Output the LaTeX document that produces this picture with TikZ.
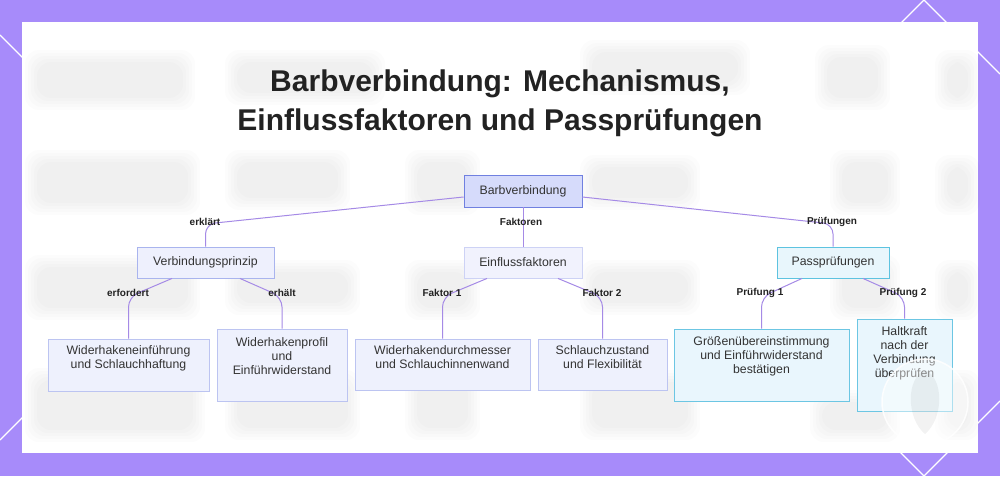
\documentclass[tikz,border=0pt]{standalone}
\usepackage{fontspec}
\setmainfont{Liberation Sans}
\usetikzlibrary{calc}
\definecolor{bgpurple}{HTML}{A78BFA}
\definecolor{edgec}{HTML}{A58AE6}
\definecolor{txt}{HTML}{333333}
\definecolor{ttl}{HTML}{222222}
\definecolor{rootfill}{HTML}{D6DBFB}
\definecolor{rootdraw}{HTML}{7080E0}
\definecolor{vpfill}{HTML}{EEF0FD}
\definecolor{vpdraw}{HTML}{A9B4EE}
\definecolor{effill}{HTML}{F1F2FD}
\definecolor{efdraw}{HTML}{CDD2F5}
\definecolor{ppfill}{HTML}{E8F6FC}
\definecolor{ppdraw}{HTML}{5DC3E0}
\definecolor{lffill}{HTML}{EEF1FD}
\definecolor{lfdraw}{HTML}{BCC4F1}
\definecolor{cyfill}{HTML}{E9F6FD}
\definecolor{cydraw}{HTML}{6CC6E3}
\newcommand\nodefont{\fontsize{12.3}{14}\selectfont}
\newcommand\edgefont{\fontsize{10}{12}\selectfont\bfseries}
\newcommand\myblob[4]{%
  \foreach \e in {10,7,4,1,-2}{%
    \fill[black, opacity=0.01, rounded corners=14] (#1-\e,#2-\e) rectangle (#3+\e,#4+\e);}}
\begin{document}
\begin{tikzpicture}[x=1pt,y=-1pt,
  box/.style={draw, line width=0.9pt, inner sep=0pt, font=\nodefont, text=txt, align=center},
  rootbox/.style={box, fill=rootfill, draw=rootdraw},
  vpbox/.style={box, fill=vpfill, draw=vpdraw},
  efbox/.style={box, fill=effill, draw=efdraw},
  ppbox/.style={box, fill=ppfill, draw=ppdraw},
  lfbox/.style={box, fill=lffill, draw=lfdraw},
  cybox/.style={box, fill=cyfill, draw=cydraw},
  conn/.style={draw=edgec, line width=1pt, rounded corners=10},
  elabel/.style={font=\edgefont, text=ttl, inner sep=1pt},
  titlef/.style={font=\fontsize{30}{38}\selectfont\bfseries, text=ttl, inner sep=0pt, anchor=base},
  deco/.style={draw=white, line width=1.2pt}
]
\useasboundingbox (0,0) rectangle (1000,476);
\fill[bgpurple] (0,0) rectangle (1000,476);
% decorative lines in the margin
\begin{scope}
\clip (0,0) rectangle (1000,476);
\draw[deco] (0,35) -- (40,75);
\draw[deco] (0,440) -- (40,400);
\draw[deco] (880,44) -- (924,0) -- (970,46);
\draw[deco] (960,34) -- (1000,74);
\draw[deco] (960,441) -- (1000,401);
\draw[deco] (878,430) -- (924,476) -- (970,430);
\end{scope}
% card
\fill[white] (22,22) rectangle (978,453);
% blurred background blobs
\myblob{35}{60}{185}{100}
\myblob{235}{60}{375}{95}
\myblob{590}{50}{740}{85}
\myblob{825}{55}{880}{100}
\myblob{945}{60}{970}{100}
\myblob{35}{160}{190}{205}
\myblob{235}{160}{340}{200}
\myblob{415}{160}{470}{205}
\myblob{590}{165}{690}{200}
\myblob{840}{160}{890}{205}
\myblob{945}{165}{970}{205}
\myblob{35}{265}{190}{310}
\myblob{235}{270}{350}{305}
\myblob{415}{270}{470}{310}
\myblob{590}{270}{690}{305}
\myblob{840}{265}{890}{310}
\myblob{945}{270}{970}{310}
\myblob{35}{378}{195}{432}
\myblob{235}{380}{350}{430}
\myblob{415}{380}{470}{430}
\myblob{590}{380}{690}{430}
\myblob{820}{400}{890}{432}
\myblob{945}{380}{970}{430}
% title
\node[titlef] (t1) at (500,92) {Barbverbindung: Mechanismus,};
\node[titlef] (t2) at (500,130) {Einflussfaktoren und Passprüfungen};
% nodes
\node[rootbox, minimum width=118, minimum height=32] (root) at (523,191) {Barbverbindung};
\node[vpbox, minimum width=137, minimum height=31] (vp) at (205.5,262.5) {Verbindungsprinzip};
\node[efbox, minimum width=118, minimum height=31] (ef) at (523,262.5) {Einflussfaktoren};
\node[ppbox, minimum width=112, minimum height=31] (pp) at (833,262.5) {Passprüfungen};
\node[lfbox, minimum width=161, minimum height=52,
  label={[font=\nodefont, text=txt, align=center, yshift=7]center:{Widerhakeneinführung\\und Schlauchhaftung}}] (w1) at (128.5,365) {};
\node[lfbox, minimum width=130, minimum height=72,
  label={[font=\nodefont, text=txt, align=center, yshift=9]center:{Widerhakenprofil\\und\\Einführwiderstand}}] (w2) at (282,365) {};
\node[lfbox, minimum width=175, minimum height=51,
  label={[font=\nodefont, text=txt, align=center, yshift=7]center:{Widerhakendurchmesser\\und Schlauchinnenwand}}] (w3) at (442.5,364.5) {};
\node[lfbox, minimum width=129, minimum height=51,
  label={[font=\nodefont, text=txt, align=center, yshift=7]center:{Schlauchzustand\\und Flexibilität}}] (w4) at (602.5,364.5) {};
\node[cybox, minimum width=175, minimum height=72,
  label={[font=\nodefont, text=txt, align=center, yshift=9]center:{Größenübereinstimmung\\und Einführwiderstand\\bestätigen}}] (w5) at (761.5,365) {};
\node[cybox, minimum width=95, minimum height=92,
  label={[font=\nodefont, text=txt, align=center, yshift=12]center:{Haltkraft\\nach der\\Verbindung\\überprüfen}}] (w6) at (904.5,365) {};
% connectors
\draw[conn] (root.west |- 0,197) -- (vp.north |- 0,224) -- (vp.north);
\draw[conn] (root.south) -- (ef.north);
\draw[conn] (root.east |- 0,197) -- (pp.north |- 0,224) -- (pp.north);
\draw[conn] ([xshift=-33.5]vp.south) -- (w1.north |- 0,297) -- (w1.north);
\draw[conn] ([xshift=34.5]vp.south) -- (w2.north |- 0,297) -- (w2.north);
\draw[conn] ([xshift=-36]ef.south) -- (w3.north |- 0,297) -- (w3.north);
\draw[conn] ([xshift=35]ef.south) -- (w4.north |- 0,297) -- (w4.north);
\draw[conn] ([xshift=-31]pp.south) -- (w5.north |- 0,297) -- (w5.north);
\draw[conn] ([xshift=30]pp.south) -- (w6.north |- 0,297) -- (w6.north);
% edge labels
\node[elabel] (l1) at (205,222) {erklärt};
\node[elabel] (l2) at (521,222) {Faktoren};
\node[elabel] (l3) at (832,222) {Prüfungen};
\node[elabel] (l4) at (128,293) {erfordert};
\node[elabel] (l5) at (282,293) {erhält};
\node[elabel] (l6) at (442,293) {Faktor 1};
\node[elabel] (l7) at (602,293) {Faktor 2};
\node[elabel] (l8) at (760,293) {Prüfung 1};
\node[elabel] (l9) at (903,293) {Prüfung 2};
% watermark
\fill[white, opacity=0.45] (925,402) circle (43);
\draw[white, line width=1.5pt, opacity=0.85] (925,402) circle (43);
\fill[black, opacity=0.05] (925,370) .. controls (944,378) and (944,418) .. (925,434) .. controls (906,418) and (906,378) .. (925,370);
\end{tikzpicture}
\end{document}
